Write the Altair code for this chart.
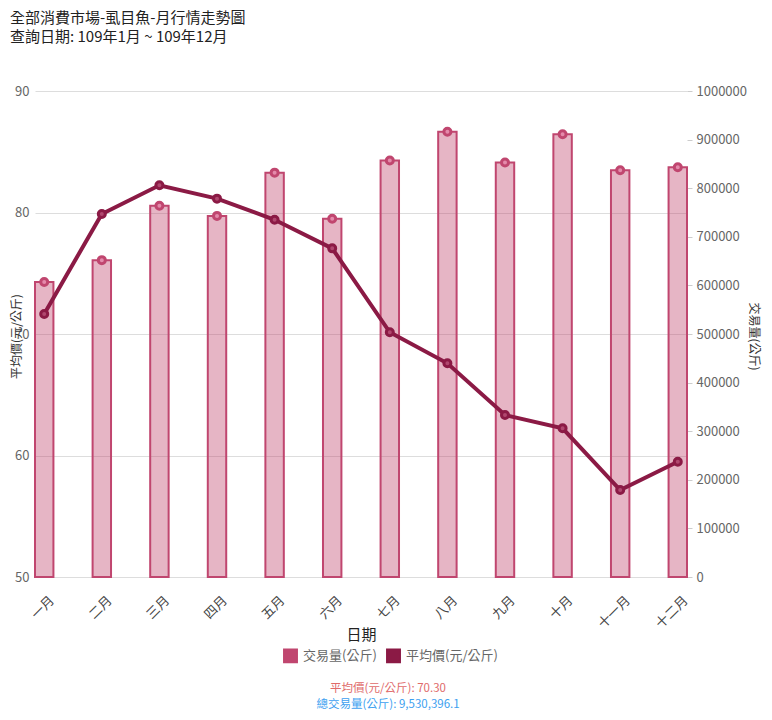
import altair as alt
import pandas as pd

# ---- data ----
months = ["一月", "二月", "三月", "四月", "五月", "六月", "七月", "八月", "九月", "十月", "十一月", "十二月"]
volume = [607000, 652000, 764000, 743000, 832000, 737000, 857000, 916000, 853000, 911000, 837000, 843000]
price = [71.65, 79.88, 82.24, 81.14, 79.4, 77.05, 70.14, 67.59, 63.33, 62.24, 57.16, 59.49]
series_names = ["交易量(公斤)", "平均價(元/公斤)"]
summary_lines = ["平均價(元/公斤): 70.30", "總交易量(公斤): 9,530,396.1"]
title_lines = ["全部消費市場-虱目魚-月行情走勢圖", "查詢日期: 109年1月 ~ 109年12月"]
price_ticks = [50, 60, 70, 80, 90]
volume_ticks = [0, 100000, 200000, 300000, 400000, 500000, 600000, 700000, 800000, 900000, 1000000]

FONT = "Noto Sans CJK TC"
BAR_C = "#c0466f"
LINE_C = "#8b1a45"

df = pd.DataFrame({"month": months, "volume": volume, "price": price})

x_enc = alt.X(
    "month:N",
    sort=months,
    scale=alt.Scale(type="band", paddingInner=0.68, paddingOuter=0.0),
    axis=alt.Axis(
        title="日期", labelAngle=-45, labelAlign="right", labelBaseline="middle",
        labelPadding=21, labelOffset=8, ticks=False, domainColor="#dddddd", labelColor="#444444",
        labelFontSize=13, titleFontSize=15, titleFontWeight="normal", titleColor="#222222",
        titleY=57, titleBaseline="middle", grid=False,
    ),
)

color_scale = alt.Scale(domain=series_names, range=[BAR_C, LINE_C])
legend = alt.Legend(
    title=None, orient="none", legendX=248, legendY=557, direction="horizontal",
    symbolType="square", symbolSize=180, symbolStrokeColor="#cccccc", symbolStrokeWidth=1.5,
    symbolOpacity=1, labelFontSize=13, labelColor="#666666", labelFont=FONT,
    columnPadding=6, labelOffset=5,
)
color_enc = alt.Color("series:N", scale=color_scale, legend=legend)

y_vol = alt.Y(
    "volume:Q",
    scale=alt.Scale(domain=[0, 1000000], nice=False),
    axis=alt.Axis(
        orient="right", values=volume_ticks, format="d", grid=False, domain=False,
        tickColor="#cccccc", tickSize=5, labelPadding=4, labelColor="#666666", labelFontSize=13,
        title="交易量(公斤)", titleAngle=90, titleX=66, titleY=245, titleAlign="center",
        titleBaseline="middle", titleFontSize=12, titleFontWeight="normal", titleColor="#333333",
    ),
)

y_price = alt.Y(
    "price:Q",
    scale=alt.Scale(domain=[50, 90], nice=False, zero=False),
    axis=alt.Axis(
        orient="left", values=price_ticks, grid=True, gridColor="#dddddd", domain=False,
        ticks=False, labelPadding=6, labelColor="#666666", labelFontSize=13,
        title="平均價(元/公斤)", titleAngle=270, titleX=-19, titleY=245, titleAlign="center",
        titleBaseline="middle", titleFontSize=12, titleFontWeight="normal", titleColor="#333333",
    ),
)

bars = alt.Chart(df).transform_calculate(
    series=f"'{series_names[0]}'"
).mark_bar(fillOpacity=0.4, stroke=BAR_C, strokeWidth=2).encode(
    x=x_enc, y=y_vol, color=color_enc,
)

bar_pts = alt.Chart(df).mark_point(
    shape="circle", filled=True, fill="#e48aab", stroke=BAR_C, strokeWidth=3, size=49, opacity=1
).encode(x=x_enc, y=y_vol)

line = alt.Chart(df).transform_calculate(
    series=f"'{series_names[1]}'"
).mark_line(strokeWidth=4).encode(
    x=x_enc, y=y_price, color=color_enc,
)

line_pts = alt.Chart(df).mark_point(
    shape="circle", filled=True, fill="#b0486f", stroke=LINE_C, strokeWidth=3, size=49, opacity=1
).encode(x=x_enc, y=y_price)

foot1 = alt.Chart(pd.DataFrame({"text": [summary_lines[0]]})).mark_text(
    fontSize=11.5, color="#e06a6a", align="center", baseline="middle", font=FONT
).encode(text="text:N", x=alt.value(353), y=alt.value(598))
foot2 = alt.Chart(pd.DataFrame({"text": [summary_lines[1]]})).mark_text(
    fontSize=11.5, color="#3d9ff0", align="center", baseline="middle", font=FONT
).encode(text="text:N", x=alt.value(353), y=alt.value(614))

left_layer = alt.layer(line, line_pts)
right_layer = alt.layer(bars, bar_pts)

chart = alt.layer(right_layer, left_layer, foot1, foot2).resolve_scale(
    y="independent"
).properties(
    width=652,
    height=486,
    autosize=alt.AutoSizeParams(type="none"),
    padding={"left": 27, "top": 83, "right": 77, "bottom": 135},
    title=alt.TitleParams(
        text=title_lines[0], subtitle=title_lines[1], anchor="start", frame="group",
        orient="top", dx=-25, offset=40, fontSize=15, subtitleFontSize=15,
        fontWeight="normal", color="#222222", subtitleColor="#222222",
        font=FONT, subtitleFont=FONT, subtitlePadding=4,
    ),
).configure(font=FONT).configure_view(stroke=None).configure_axis(
    labelFont=FONT, titleFont=FONT
)

chart.save("out.html", embed_options={"renderer": "svg", "actions": False})
